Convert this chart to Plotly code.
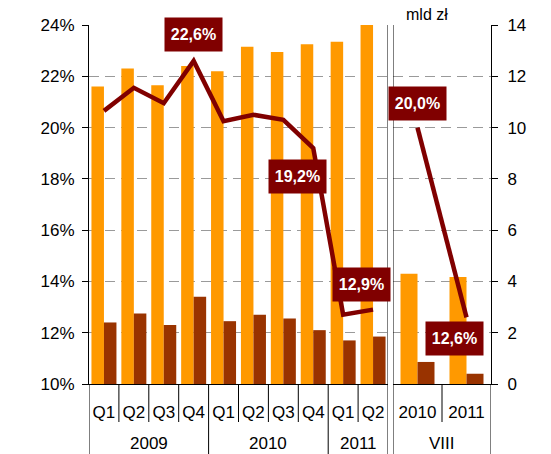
import plotly.graph_objects as go

# ---------------- data ----------------
quarters = ["Q1", "Q2", "Q3", "Q4", "Q1", "Q2", "Q3", "Q4", "Q1", "Q2"]
years = ["2009", "2009", "2009", "2009", "2010", "2010", "2010", "2010", "2011", "2011"]
orange_q = [11.6, 12.3, 11.65, 12.4, 12.2, 13.15, 12.95, 13.25, 13.35, 14.05]   # mld zł
dark_q = [2.4, 2.75, 2.3, 3.4, 2.45, 2.7, 2.55, 2.1, 1.7, 1.85]                 # mld zł
pct_q = [20.65, 21.55, 20.95, 22.6, 20.25, 20.5, 20.3, 19.2, 12.7, 12.9]        # %

aug_cats = ["2010", "2011"]
aug_group = "VIII"
orange_aug = [4.3, 4.17]
dark_aug = [0.86, 0.4]
pct_aug = [20.0, 12.6]

labelled_q = [3, 7, 9]        # indices of labelled quarterly points
labelled_aug = [0, 1]

unit_label = "mld zł"

# ---------------- style ----------------
ORANGE = "#FF9900"
BROWN = "#993300"
LINE = "#800000"
FONT = "Liberation Sans, Arial, sans-serif"

W, H = 551, 454
ML, MR, MT, MB = 89, 60, 25, 70
PW = W - ML - MR
PH = H - MT - MB
left_dom = [0, 299 / PW]
right_dom = [304 / PW, 1]

xq = [f"{y} {q}" for y, q in zip(years, quarters)]
xa = [f"{aug_group} {c}" for c in aug_cats]

wq = 0.418
wa = 0.347

fig = go.Figure()
fig.add_trace(go.Bar(x=xq, y=orange_q, xaxis="x", yaxis="y", marker_color=ORANGE,
                     width=wq, offset=-wq, marker_line_width=0, showlegend=False))
fig.add_trace(go.Bar(x=xq, y=dark_q, xaxis="x", yaxis="y", marker_color=BROWN,
                     width=wq, offset=0, marker_line_width=0, showlegend=False))
fig.add_trace(go.Bar(x=xa, y=orange_aug, xaxis="x2", yaxis="y", marker_color=ORANGE,
                     width=wa, offset=-wa, marker_line_width=0, showlegend=False))
fig.add_trace(go.Bar(x=xa, y=dark_aug, xaxis="x2", yaxis="y", marker_color=BROWN,
                     width=wa, offset=0, marker_line_width=0, showlegend=False))
fig.add_trace(go.Scatter(x=xq, y=pct_q, xaxis="x", yaxis="y2", mode="lines",
                         line=dict(color=LINE, width=4.5), showlegend=False))
fig.add_trace(go.Scatter(x=xa, y=pct_aug, xaxis="x2", yaxis="y2", mode="lines",
                         line=dict(color=LINE, width=4.5), showlegend=False))

annotations = []
def fmt(v):
    return f"{v:.1f}%".replace(".", ",")

shifts_q = {3: (0, 26), 7: (-16, -28), 9: (-12, 25)}
shifts_a = {0: (0, 24), 1: (-12, -21)}
label_font = dict(family=FONT, size=16, color="white", weight="bold")
for i in labelled_q:
    dx, dy = shifts_q[i]
    annotations.append(dict(x=xq[i], y=pct_q[i], xref="x", yref="y2", text=fmt(pct_q[i]),
                            showarrow=False, xshift=dx, yshift=dy, bgcolor=LINE,
                            width=55, height=31, font=label_font))
for i in labelled_aug:
    dx, dy = shifts_a[i]
    annotations.append(dict(x=xa[i], y=pct_aug[i], xref="x2", yref="y2", text=fmt(pct_aug[i]),
                            showarrow=False, xshift=dx, yshift=dy, bgcolor=LINE,
                            width=55, height=31, font=label_font))

# year group labels
groups = []
for i, y in enumerate(years):
    if not groups or groups[-1][0] != y:
        groups.append([y, i, i])
    else:
        groups[-1][2] = i
year_y = -(443 - 384) / PH
for name, a, b in groups:
    annotations.append(dict(x=(a + b) / 2, y=year_y, xref="x", yref="paper", text=name,
                            showarrow=False, yanchor="middle",
                            font=dict(family=FONT, size=17, color="black")))
annotations.append(dict(x=(len(aug_cats) - 1) / 2, y=year_y, xref="x2", yref="paper", text=aug_group,
                        showarrow=False, yanchor="middle",
                        font=dict(family=FONT, size=17, color="black")))
annotations.append(dict(x=(450 - ML) / PW, y=1 + (MT - 14) / PH, xref="paper", yref="paper",
                        text=unit_label, showarrow=False, yanchor="middle",
                        font=dict(family=FONT, size=16, color="black")))

# separators
shapes = []
bottom = -MB / PH - 0.01
short = -38 / PH
LC = "black"
for name, a, b in groups:
    shapes.append(dict(type="line", xref="x", yref="paper", x0=a - 0.5, x1=a - 0.5,
                       y0=0, y1=bottom, line=dict(color=LC, width=1)))
for name, a, b in groups:
    for k in range(a, b):
        shapes.append(dict(type="line", xref="x", yref="paper", x0=k + 0.5, x1=k + 0.5,
                           y0=0, y1=short, line=dict(color=LC, width=1)))
for k in range(len(aug_cats) - 1):
    shapes.append(dict(type="line", xref="x2", yref="paper", x0=k + 0.5, x1=k + 0.5,
                       y0=0, y1=short, line=dict(color=LC, width=1)))
shapes.append(dict(type="line", xref="x", yref="paper", x0=len(xq) - 0.5, x1=len(xq) - 0.5,
                   y0=1, y1=bottom, line=dict(color=LC, width=1)))
shapes.append(dict(type="line", xref="x2", yref="paper", x0=-0.5, x1=-0.5,
                   y0=1, y1=bottom, line=dict(color=LC, width=1)))
shapes.append(dict(type="line", xref="x2", yref="paper", x0=len(xa) - 0.5, x1=len(xa) - 0.5,
                   y0=0, y1=bottom, line=dict(color=LC, width=1)))

tickfont = dict(family=FONT, size=17, color="black")

fig.update_layout(
    width=W, height=H,
    margin=dict(l=ML, r=MR, t=MT, b=MB, pad=0),
    paper_bgcolor="white", plot_bgcolor="white",
    barmode="overlay",
    hovermode=False,
    xaxis=dict(domain=left_dom, anchor="y2", type="category", categoryorder="array",
               categoryarray=xq, tickvals=xq, ticktext=quarters, range=[-0.5, len(xq) - 0.5],
               showline=True, linecolor=LC, linewidth=1, ticks="", ticklabelstandoff=13,
               tickfont=tickfont, showgrid=False, zeroline=False),
    xaxis2=dict(domain=right_dom, anchor="y", type="category", categoryorder="array",
                categoryarray=xa, tickvals=xa, ticktext=aug_cats, range=[-0.5, len(xa) - 0.5],
                showline=True, linecolor=LC, linewidth=1, ticks="", ticklabelstandoff=13,
                tickfont=tickfont, showgrid=False, zeroline=False),
    yaxis=dict(anchor="x2", side="right", range=[0, 14], dtick=2, tick0=0,
               showline=True, linecolor=LC, linewidth=1, ticks="outside", ticklen=6,
               tickcolor=LC, ticklabelstandoff=6, tickfont=tickfont,
               showgrid=True, gridcolor="#9a9a9a", gridwidth=1, griddash="10px,6px",
               zeroline=False),
    yaxis2=dict(overlaying="y", anchor="x", side="left", range=[10, 24], dtick=2, tick0=10,
                ticksuffix="%", showline=True, linecolor=LC, linewidth=1, ticks="outside",
                ticklen=6, tickcolor=LC, ticklabelstandoff=4, tickfont=tickfont,
                showgrid=False, zeroline=False),
    annotations=annotations,
    shapes=shapes,
)

fig.write_html("out.html", config={"displayModeBar": False, "staticPlot": True},
               post_script="document.body.style.margin='0';")
